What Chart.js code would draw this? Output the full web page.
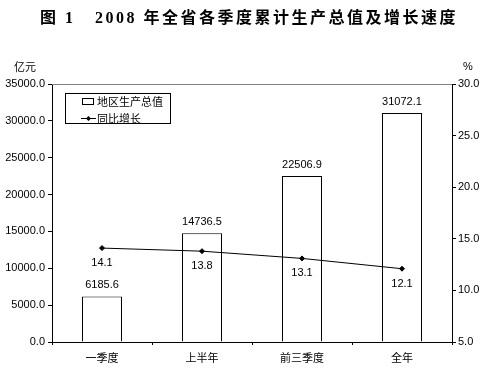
<!DOCTYPE html>
<html>
<head>
<meta charset="utf-8">
<script src="https://cdn.jsdelivr.net/npm/chart.js@4.4.4/dist/chart.umd.min.js"></script>
<style>
  html, body { margin: 0; padding: 0; background: #fff; }
  #wrap { width: 491px; height: 371px; position: relative; }
</style>
</head>
<body>
<div id="wrap"><canvas id="c" width="491" height="371"></canvas></div>
<script>
// chart data
const categories = ['一季度', '上半年', '前三季度', '全年'];
const gdpValues = [6185.6, 14736.5, 22506.9, 31072.1];
const growthValues = [14.1, 13.8, 13.1, 12.1];
const leftTicks = [0, 5000, 10000, 15000, 20000, 25000, 30000, 35000];
const rightTicks = [5, 10, 15, 20, 25, 30];

const TITLE = '图 1   2008 年全省各季度累计生产总值及增长速度';
const NUM_FONT = '11px "Liberation Sans", Arial, sans-serif';
const CJK_FONT = '11px "Noto Sans CJK SC", sans-serif';

// draws title, unit labels, plot top border, value labels and the boxed legend
const decorPlugin = {
  id: 'decor',
  afterDatasetsDraw(chart) {
    const ctx = chart.ctx;
    const area = chart.chartArea;
    ctx.save();

    // title
    ctx.fillStyle = '#000';
    ctx.font = 'bold 16px "Liberation Serif", "Noto Sans CJK SC", serif';
    ctx.letterSpacing = '2.5px';
    ctx.textAlign = 'center';
    ctx.textBaseline = 'middle';
    ctx.fillText(TITLE, 249, 19);
    ctx.letterSpacing = '0px';

    // units
    ctx.font = CJK_FONT;
    ctx.fillText('亿元', 25, 67);
    ctx.font = NUM_FONT;
    ctx.fillText('%', 468, 67);

    // gray top border of plot
    ctx.strokeStyle = '#808080';
    ctx.lineWidth = 1;
    ctx.beginPath();
    ctx.moveTo(area.left, area.top + 0.5);
    ctx.lineTo(area.right, area.top + 0.5);
    ctx.stroke();

    // bar value labels
    ctx.fillStyle = '#000';
    ctx.font = NUM_FONT;
    const barMeta = chart.getDatasetMeta(0);
    barMeta.data.forEach(function (bar, i) {
      ctx.fillText(gdpValues[i].toFixed(1), bar.x, bar.y - 11);
    });

    // line value labels (below points)
    const lineMeta = chart.getDatasetMeta(1);
    lineMeta.data.forEach(function (pt, i) {
      ctx.fillText(growthValues[i].toFixed(1), pt.x, pt.y + 15);
    });

    // legend box
    ctx.strokeStyle = '#000';
    ctx.strokeRect(65.5, 93.5, 105, 30);
    ctx.fillStyle = '#fff';
    ctx.strokeRect(82.5, 98.5, 11, 6);
    ctx.beginPath();
    ctx.moveTo(81, 118.5);
    ctx.lineTo(96, 118.5);
    ctx.stroke();
    ctx.fillStyle = '#000';
    ctx.beginPath();
    ctx.moveTo(88.5, 116);
    ctx.lineTo(91, 118.5);
    ctx.lineTo(88.5, 121);
    ctx.lineTo(86, 118.5);
    ctx.closePath();
    ctx.fill();
    ctx.font = CJK_FONT;
    ctx.textAlign = 'left';
    ctx.fillText(chart.data.datasets[0].label, 97, 102);
    ctx.fillText(chart.data.datasets[1].label, 97, 119);

    ctx.restore();
  }
};

new Chart(document.getElementById('c'), {
  type: 'bar',
  data: {
    labels: categories,
    datasets: [
      {
        type: 'bar',
        label: '地区生产总值',
        data: gdpValues,
        yAxisID: 'y',
        backgroundColor: '#ffffff',
        borderColor: '#000000',
        borderWidth: 1,
        categoryPercentage: 1.0,
        barPercentage: 0.4,
        order: 2
      },
      {
        type: 'line',
        label: '同比增长',
        data: growthValues,
        yAxisID: 'y1',
        borderColor: '#000000',
        borderWidth: 1,
        pointStyle: 'rectRot',
        pointRadius: 2.5,
        pointBackgroundColor: '#000000',
        pointBorderColor: '#000000',
        tension: 0,
        order: 1
      }
    ]
  },
  options: {
    responsive: false,
    animation: false,
    layout: { padding: { top: 84, bottom: 0, left: 0, right: 0 } },
    plugins: {
      legend: { display: false },
      title: { display: false },
      tooltip: { enabled: false }
    },
    scales: {
      x: {
        grid: { display: true, drawOnChartArea: false, color: '#000', tickLength: 3 },
        border: { color: '#000' },
        ticks: {
          color: '#000',
          font: { family: '"Noto Sans CJK SC", sans-serif', size: 11 },
          padding: 6
        },
        afterFit(scale) { scale.height = 29; }
      },
      y: {
        position: 'left',
        min: 0,
        max: 35000,
        afterBuildTicks(scale) { scale.ticks = leftTicks.map(v => ({ value: v })); },
        grid: { display: true, drawOnChartArea: false, color: '#000', tickLength: 4 },
        border: { color: '#000' },
        ticks: {
          color: '#000',
          font: { family: '"Liberation Sans", Arial, sans-serif', size: 11 },
          padding: 3,
          callback: v => Number(v).toFixed(1)
        },
        afterFit(scale) { scale.width = 52; }
      },
      y1: {
        position: 'right',
        min: 5,
        max: 30,
        afterBuildTicks(scale) { scale.ticks = rightTicks.map(v => ({ value: v })); },
        grid: { display: true, drawOnChartArea: false, color: '#000', tickLength: 4 },
        border: { color: '#000' },
        ticks: {
          color: '#000',
          font: { family: '"Liberation Sans", Arial, sans-serif', size: 11 },
          padding: 2,
          callback: v => Number(v).toFixed(1)
        },
        afterFit(scale) { scale.width = 39; }
      }
    }
  },
  plugins: [decorPlugin]
});
</script>
</body>
</html>
